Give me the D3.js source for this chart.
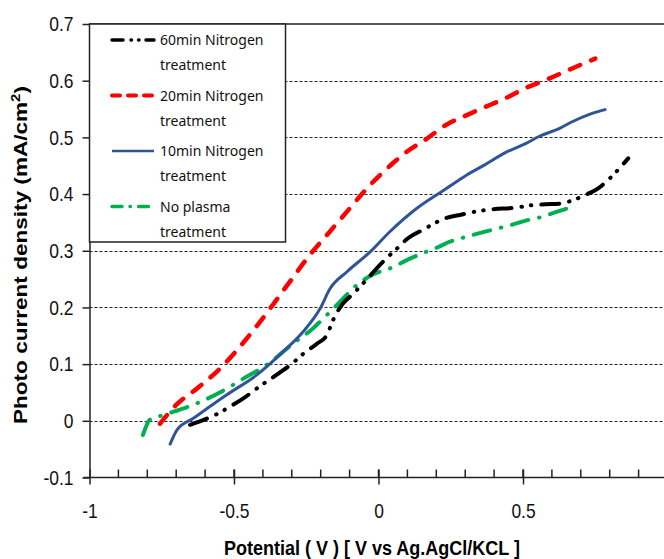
<!DOCTYPE html>
<html>
<head>
<meta charset="utf-8">
<script src="https://cdn.jsdelivr.net/npm/d3@7"></script>
<style>
  body { margin: 0; background: #fff; }
  svg { display: block; }
  .tick text { font-family: "Liberation Sans", Arial, sans-serif; font-size: 21px; fill: #111; }
</style>
</head>
<body>
<svg id="chart"></svg>
<script>
// chart size
var W = 664, H = 559;

// x = potential (V), y = photo current density (mA/cm2)
var pot60 = [-0.652, -0.559, -0.514, -0.469, -0.421, -0.348, -0.299, -0.261, -0.213, -0.178, -0.157, -0.126, -0.088, -0.047, 0.016, 0.064, 0.102, 0.154, 0.230, 0.289, 0.334, 0.394, 0.474, 0.526, 0.578, 0.627, 0.672, 0.714, 0.760, 0.801, 0.840, 0.864];
var cur60 = [-0.007, 0.012, 0.025, 0.039, 0.057, 0.083, 0.101, 0.118, 0.136, 0.152, 0.178, 0.205, 0.224, 0.246, 0.281, 0.304, 0.322, 0.337, 0.357, 0.364, 0.369, 0.373, 0.376, 0.380, 0.382, 0.383, 0.389, 0.398, 0.410, 0.428, 0.449, 0.463];

var pot20 = [-0.756, -0.700, -0.628, -0.549, -0.445, -0.365, -0.306, -0.237, -0.168, -0.099, -0.040, 0.040, 0.091, 0.168, 0.237, 0.300, 0.348, 0.439, 0.509, 0.592, 0.672, 0.750];
var cur20 = [-0.005, 0.028, 0.057, 0.092, 0.152, 0.205, 0.246, 0.293, 0.334, 0.375, 0.410, 0.450, 0.472, 0.498, 0.523, 0.538, 0.549, 0.569, 0.587, 0.604, 0.622, 0.639];

var pot10 = [-0.721, -0.697, -0.642, -0.525, -0.421, -0.330, -0.261, -0.202, -0.168, -0.109, -0.029, 0.040, 0.133, 0.202, 0.247, 0.300, 0.369, 0.439, 0.509, 0.557, 0.627, 0.672, 0.732, 0.784];
var cur10 = [-0.041, -0.016, 0.004, 0.046, 0.081, 0.122, 0.157, 0.198, 0.233, 0.263, 0.298, 0.334, 0.375, 0.399, 0.414, 0.432, 0.452, 0.473, 0.489, 0.502, 0.516, 0.528, 0.541, 0.549];

var potNo = [-0.815, -0.791, -0.745, -0.642, -0.514, -0.469, -0.386, -0.296, -0.227, -0.178, -0.133, -0.074, -0.019, 0.040, 0.109, 0.150, 0.209, 0.247, 0.279, 0.334, 0.394, 0.463, 0.523, 0.568, 0.613, 0.655];
var curNo = [-0.025, 0.002, 0.010, 0.028, 0.060, 0.074, 0.099, 0.136, 0.163, 0.187, 0.210, 0.240, 0.258, 0.269, 0.286, 0.295, 0.307, 0.316, 0.321, 0.329, 0.337, 0.346, 0.355, 0.360, 0.368, 0.375];

// tick labels
var xTicks = [-1, -0.5, 0, 0.5, 1];
var xTickLabels = ["-1", "-0.5", "0", "0.5", "1"];
var yTicks = [-0.1, 0, 0.1, 0.2, 0.3, 0.4, 0.5, 0.6, 0.7];
var yTickLabels = ["-0.1", "0", "0.1", "0.2", "0.3", "0.4", "0.5", "0.6", "0.7"];

// legend names, two lines each
var seriesNames = [["60min Nitrogen", "treatment"], ["20min Nitrogen", "treatment"], ["10min Nitrogen", "treatment"], ["No plasma", "treatment"]];

// style of each series
var styles = [
  {color: "#000000", dash: "18,10,0.5,9,0.5,10", width: 4},
  {color: "#ff0000", dash: "11,12", width: 4.5},
  {color: "#2f5597", dash: null, width: 3},
  {color: "#00b050", dash: "17,11,0.5,11", width: 4}
];
var legendDash = ["11,8,0.5,7,0.5,7", "8,8", null, "10,8,0.5,8"];

var series = [
  pot60.map(function(d, i) { return {x: d, y: cur60[i]}; }),
  pot20.map(function(d, i) { return {x: d, y: cur20[i]}; }),
  pot10.map(function(d, i) { return {x: d, y: cur10[i]}; }),
  potNo.map(function(d, i) { return {x: d, y: curNo[i]}; })
];

var x = d3.scaleLinear().domain([-1, 1]).range([89.5, 667.5]);
var y = d3.scaleLinear().domain([-0.1, 0.7]).range([477.5, 24]);

var svg = d3.select("#chart").attr("width", W).attr("height", H);

// grid lines (dotted)
svg.append("g")
  .selectAll("line")
  .data(yTicks.filter(function(d) { return d >= 0 && d < 0.7; }))
  .enter().append("line")
  .attr("x1", x(-1)).attr("x2", W)
  .attr("y1", function(d) { return Math.round(y(d)) + 0.5; })
  .attr("y2", function(d) { return Math.round(y(d)) + 0.5; })
  .attr("stroke", "#222")
  .attr("stroke-width", 1)
  .attr("stroke-dasharray", "3,2");

// top border of plot area
svg.append("line")
  .attr("x1", x(-1)).attr("x2", W)
  .attr("y1", y(0.7)).attr("y2", y(0.7))
  .attr("stroke", "#222").attr("stroke-width", 1.5);

// curves
var line = d3.line()
  .x(function(d) { return x(d.x); })
  .y(function(d) { return y(d.y); })
  .curve(d3.curveMonotoneX);

var drawOrder = [3, 0, 1, 2];
drawOrder.forEach(function(i) {
  svg.append("path")
    .attr("d", line(series[i]))
    .attr("fill", "none")
    .attr("stroke", styles[i].color)
    .attr("stroke-width", styles[i].width)
    .attr("stroke-linecap", "round")
    .attr("stroke-linejoin", "round")
    .attr("stroke-dasharray", styles[i].dash);
});

// y axis
var yAxis = svg.append("g")
  .attr("transform", "translate(" + x(-1) + ",0)")
  .call(d3.axisLeft(y)
    .tickValues(yTicks)
    .tickSize(7)
    .tickSizeOuter(0)
    .tickPadding(9)
    .tickFormat(function(d, i) { return yTickLabels[i]; }));
yAxis.select(".domain").attr("stroke", "#222").attr("stroke-width", 1.5);
yAxis.selectAll(".tick line").attr("stroke", "#222").attr("stroke-width", 1.5);

// x axis
var xAxis = svg.append("g")
  .attr("transform", "translate(0," + y(-0.1) + ")")
  .call(d3.axisBottom(x)
    .tickValues(xTicks)
    .tickSize(7)
    .tickSizeOuter(0)
    .tickPadding(19)
    .tickFormat(function(d, i) { return xTickLabels[i]; }));
xAxis.select(".domain").attr("d", "M" + (x(-1) - 6) + ",0H" + W).attr("stroke", "#222").attr("stroke-width", 1.5);
xAxis.selectAll(".tick line").attr("y1", -8).attr("stroke", "#222").attr("stroke-width", 1.5);

// narrow look of the tick numbers
svg.selectAll(".tick text").each(function() {
  var len = this.getComputedTextLength();
  d3.select(this).attr("textLength", len * 0.83).attr("lengthAdjust", "spacingAndGlyphs");
});

// minor ticks every 0.1 on the inside
svg.append("g")
  .selectAll("line")
  .data(d3.range(-9, 10).map(function(d) { return d / 10; }))
  .enter().append("line")
  .attr("x1", function(d) { return x(d); }).attr("x2", function(d) { return x(d); })
  .attr("y1", y(-0.1)).attr("y2", y(-0.1) - 8)
  .attr("stroke", "#222").attr("stroke-width", 1.5);

// legend box
var legend = svg.append("g");
legend.append("rect")
  .attr("x", x(-1)).attr("y", y(0.7))
  .attr("width", 196).attr("height", 218)
  .attr("fill", "#fff")
  .attr("stroke", "#222").attr("stroke-width", 1.5);

seriesNames.forEach(function(name, i) {
  var cy = 40 + i * 55.5;
  legend.append("line")
    .attr("x1", 112).attr("x2", 154)
    .attr("y1", cy).attr("y2", cy)
    .attr("stroke", styles[i].color)
    .attr("stroke-width", styles[i].width - 0.5)
    .attr("stroke-linecap", i == 2 ? "butt" : "round")
    .attr("stroke-dasharray", legendDash[i]);
  legend.append("text")
    .attr("x", 160).attr("y", cy + 5)
    .attr("font-family", "'Noto Sans', sans-serif")
    .attr("font-size", "14px")
    .attr("fill", "#111")
    .text(name[0]);
  legend.append("text")
    .attr("x", 160).attr("y", cy + 30)
    .attr("font-family", "'Noto Sans', sans-serif")
    .attr("font-size", "14px")
    .attr("fill", "#111")
    .text(name[1]);
});

// axis titles
var yTitle = svg.append("text")
  .attr("transform", "translate(27,255) rotate(-90)")
  .attr("text-anchor", "middle")
  .attr("font-family", "'Liberation Sans', Arial, sans-serif")
  .attr("font-weight", "bold")
  .attr("font-size", "18px")
  .attr("textLength", 338)
  .attr("lengthAdjust", "spacingAndGlyphs");
yTitle.append("tspan").text("Photo current density  (mA/cm");
yTitle.append("tspan").attr("baseline-shift", "super").attr("font-size", "12px").text("2");
yTitle.append("tspan").text(")");

svg.append("text")
  .attr("x", 372).attr("y", 555)
  .attr("text-anchor", "middle")
  .attr("font-family", "'Liberation Sans', Arial, sans-serif")
  .attr("font-weight", "bold")
  .attr("font-size", "20px")
  .attr("textLength", 296)
  .attr("lengthAdjust", "spacingAndGlyphs")
  .text("Potential ( V ) [ V vs Ag.AgCl/KCL ]");
</script>
</body>
</html>
